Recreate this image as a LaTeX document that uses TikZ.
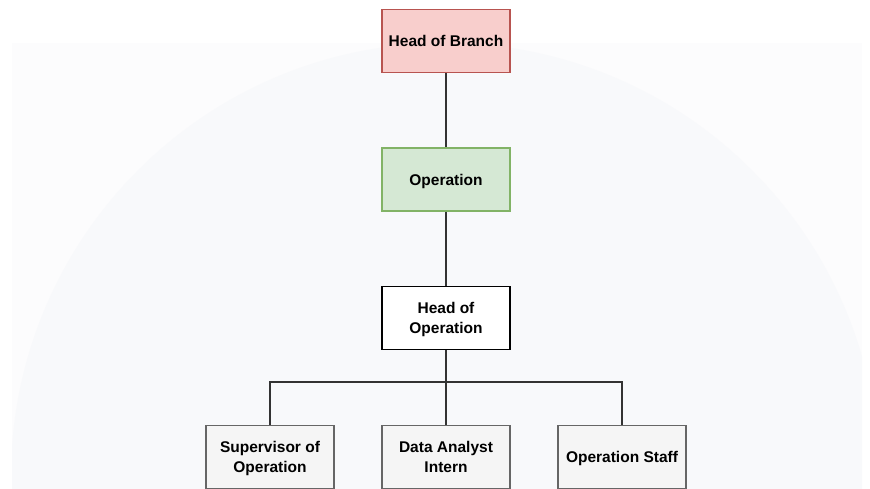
\documentclass[tikz,border=0pt]{standalone}
\usepackage{fontspec}
\setmainfont{Liberation Sans}
\begin{document}
\begin{tikzpicture}[x=1pt,y=-1pt,
  box/.style={draw, line width=1.2pt, minimum width=128pt, minimum height=63pt, inner sep=0pt,
    text depth=0pt, align=center, font=\fontsize{15.5}{19.5}\selectfont\bfseries, text=black},
  redbox/.style={box, fill=pinkfill, draw=pinkline},
  greenbox/.style={box, fill=greenfill, draw=greenline},
  whitebox/.style={box, fill=white, draw=black},
  greybox/.style={box, fill=greyfill, draw=greyline},
  conn/.style={draw=black!80, line width=1.2pt}]
\definecolor{pinkfill}{HTML}{F8CECC}
\definecolor{pinkline}{HTML}{B85450}
\definecolor{greenfill}{HTML}{D5E8D4}
\definecolor{greenline}{HTML}{82B366}
\definecolor{greyfill}{HTML}{F5F5F5}
\definecolor{greyline}{HTML}{666666}
\definecolor{wmrect}{HTML}{FCFCFD}
\definecolor{wmcirc}{HTML}{F8F9FB}
\useasboundingbox (0,0) rectangle (870,489);
% faint watermark background
\fill[wmrect] (12,43) rectangle (862,489);
\begin{scope}
\clip (12,43) rectangle (862,489);
\fill[wmcirc] (445,477) circle[radius=434];
\end{scope}
% nodes
\node[redbox] (hb) at (446,41) {Head of Branch};
\node[greenbox] (op) at (446,179.5) {Operation};
\node[whitebox] (ho) at (446,318) {Head of\\Operation};
\node[greybox] (sup) at (270,457) {Supervisor of\\Operation};
\node[greybox] (da) at (446,457) {Data Analyst\\Intern};
\node[greybox] (os) at (622,457) {Operation Staff};
\coordinate (bus) at (446,382);
% connectors
\draw[conn] (hb) -- (op);
\draw[conn] (op) -- (ho);
\draw[conn] (ho) -- (da);
\draw[conn] (sup.north) -- (sup.north |- bus) -- (os.north |- bus) -- (os.north);
\end{tikzpicture}
\end{document}
